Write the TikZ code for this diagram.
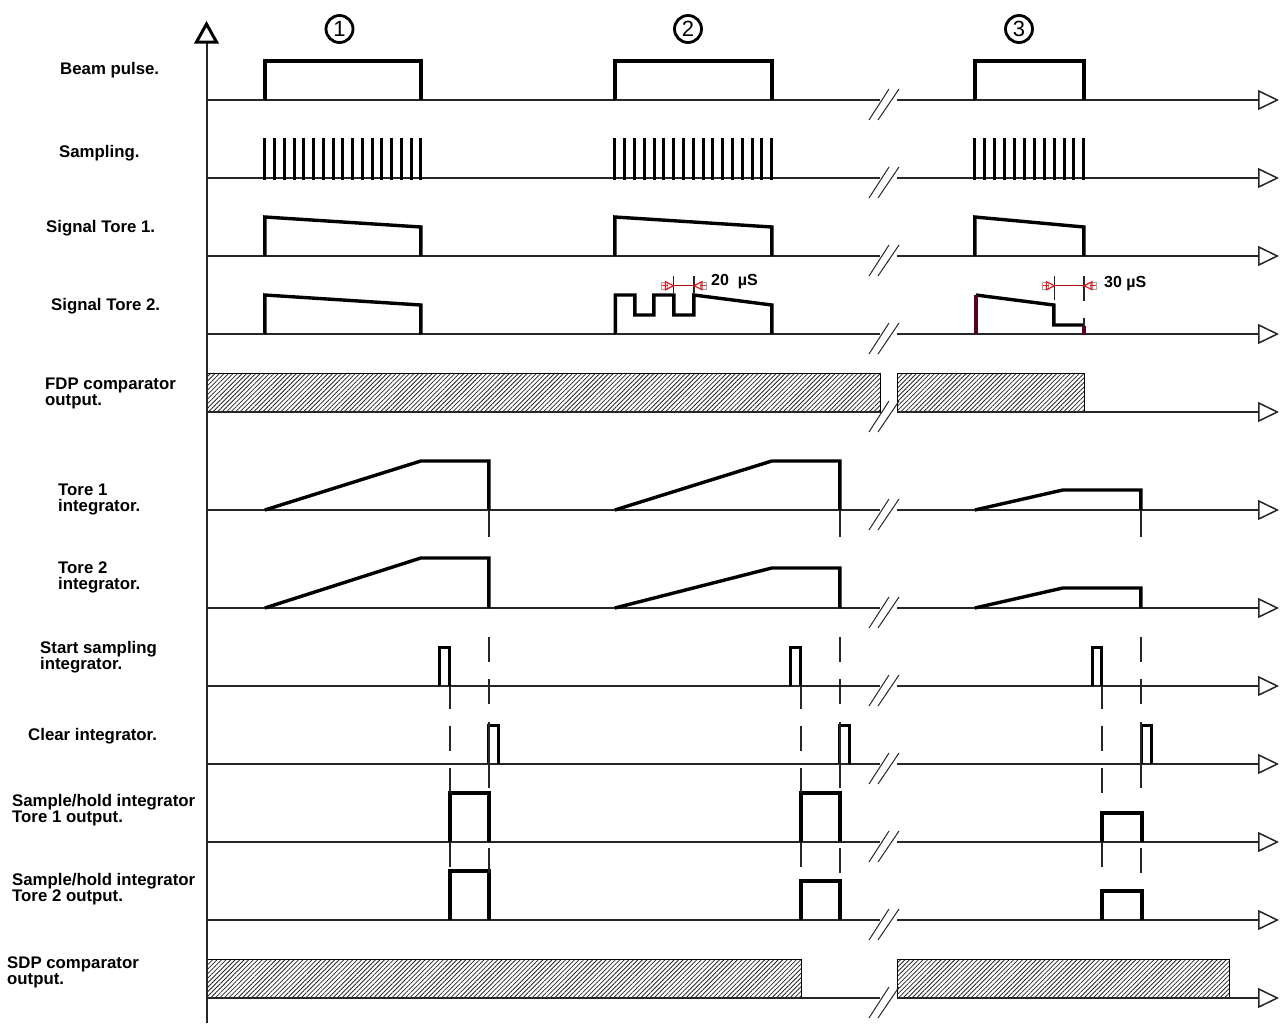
\documentclass[tikz,border=0pt]{standalone}
\usepackage{fontspec}
\setmainfont{Liberation Sans}
\usetikzlibrary{arrows.meta, patterns.meta}
\definecolor{dimred}{RGB}{240,20,30}
\definecolor{darkred}{RGB}{90,0,35}
\tikzset{
  axisline/.style={line width=1.5pt, black!85},
  pulse/.style={line width=3.4pt, line join=miter, black, xshift=-0.2pt},
  narrowpulse/.style={line width=3pt, line join=miter, black, xshift=-0.2pt},
  guide/.style={line width=1.5pt, black!85},
  breakmark/.style={line width=1pt, black!85},
  hatched/.style={line width=1pt, pattern={Lines[angle=45,distance=3.2pt,line width=0.8pt]}, pattern color=black!85},
  siglabel/.style={font=\fontsize{16.8}{16}\selectfont\bfseries, anchor=west, align=left, inner sep=0pt},
  phasenum/.style={circle, draw, line width=2.8pt, minimum size=27pt, inner sep=0pt, font=\fontsize{22}{22}\selectfont},
  dimtext/.style={font=\fontsize{16}{16}\selectfont\bfseries, anchor=west, inner sep=0pt},
}
\begin{document}
\begin{tikzpicture}[x=1pt, y=-1pt]
  \useasboundingbox (0,0) rectangle (1285,1023);
  %% Hatched comparator outputs
  \draw[hatched] (207,373) rectangle (880,412);
  \draw[hatched] (897,373) rectangle (1084,412);
  \draw[hatched] (207,959) rectangle (801,998);
  \draw[hatched] (897,959) rectangle (1229,998);
  %% Vertical axis
  \draw[axisline] (207,42) -- (207,1023);
  \draw[line width=3pt, line join=miter, fill=white] (206.5,24) -- (216.5,42) -- (196.5,42) -- cycle;
  %% Time axes with their breaks
  \foreach \ya in {100,178,256,334,412,510,608,686,764,842,920,998} {
    \draw[axisline] (207,\ya) -- (880,\ya);
    \draw[axisline, -{Triangle[open, length=21pt, width=20pt]}] (897,\ya) -- (1279,\ya);
    \draw[breakmark] (869,\ya+20) -- (889,\ya-11);
    \draw[breakmark] (878,\ya+20) -- (899,\ya-11);
  }
  %% Phase numbers
  \node[phasenum] (phase1) at (339.5,29) {1};
  \node[phasenum] (phase2) at (688,29) {2};
  \node[phasenum] (phase3) at (1019,29) {3};
  %% Beam pulse
  \draw[pulse] (265,100) -- (265,61) -- (421,61) -- (421,100);
  \draw[pulse] (615,100) -- (615,61) -- (772,61) -- (772,100);
  \draw[pulse] (975,100) -- (975,61) -- (1084,61) -- (1084,100);
  %% Sampling
  \foreach \xa/\dx/\num in {265/9.75/16, 615/9.81/16, 975/9.91/11} {
    \foreach \n in {0,...,\num} {
      \draw[line width=3pt, xshift=-0.2pt] ({\xa+\n*\dx},138) -- ({\xa+\n*\dx},180);
    }
  }
  %% Signal Tore 1
  \draw[pulse] (265,256) -- (265,217) -- (421,227) -- (421,256);
  \draw[pulse] (615,256) -- (615,217) -- (772,227) -- (772,256);
  \draw[pulse] (975,256) -- (975,217) -- (1084,227) -- (1084,256);
  %% Signal Tore 2
  \draw[pulse] (265,334) -- (265,295) -- (421,305) -- (421,334);
  \draw[pulse] (615.5,334) -- (615.5,295) -- (635,295) -- (635,315) -- (654,315) -- (654,295)
    -- (674,295) -- (674,315) -- (694,315) -- (694,295) -- (772,305) -- (772,334);
  \draw[pulse] (976,295) -- (1054,305) -- (1054,325) -- (1084,325);
  \draw[pulse, darkred] (976,334) -- (976,295);
  \draw[pulse, darkred] (1084,326) -- (1084,335);
  %% Measured widths
  \draw[guide] (673.5,276) -- (673.5,293);
  \draw[guide] (694,276) -- (694,293);
  \draw[guide] (1054.5,276) -- (1054.5,300);
  \draw[guide] (1084,276) -- (1084,301);
  \draw[guide] (1084,318) -- (1084,326);
  \foreach \xa/\xb in {673.5/694, 1054.5/1084} {
    \draw[black!35, line width=1pt] (\xa-12,282.5) rectangle (\xa-6.5,289);
    \draw[black!35, line width=1pt] (\xb+6.5,282.5) rectangle (\xb+12,289);
    \draw[dimred!70!black, line width=1.2pt] (\xa,285.7) -- (\xb,285.7);
    \draw[dimred, line width=1.2pt] (\xa,285.7) -- (\xa-8,281.7) -- (\xa-8,289.7) -- cycle;
    \draw[dimred, line width=1.2pt] (\xb,285.7) -- (\xb+8,281.7) -- (\xb+8,289.7) -- cycle;
    \draw[dimred, line width=1pt] (\xa-12,285.7) -- (\xa-6,285.7);
    \draw[dimred, line width=1pt] (\xb+6,285.7) -- (\xb+12,285.7);
  }
  \node[dimtext] (width20) at (711,282) {20\ \ µS};
  \node[dimtext] (width30) at (1104,284) {30 µS};
  %% Tore 1 integrator
  \draw[pulse] (265,510) -- (421,461) -- (489,461) -- (489,510);
  \draw[pulse] (615,510) -- (772,461) -- (840,461) -- (840,510);
  \draw[pulse] (975,510) -- (1063,490) -- (1141,490) -- (1141,510);
  %% Tore 2 integrator
  \draw[pulse] (265,608) -- (421,558) -- (489,558) -- (489,608);
  \draw[pulse] (615,608) -- (772,568) -- (840,568) -- (840,608);
  \draw[pulse] (975,608) -- (1063,588) -- (1141,588) -- (1141,608);
  %% Start sampling, clear and sample/hold
  \foreach \xa/\xb/\xc/\xd/\hone/\htwo in {440/450/489/499/793/871, 791/801/840/850/793/881, 1093/1102/1142/1152/813/891} {
    \draw[narrowpulse] (\xa,686) -- (\xa,647) -- (\xb,647) -- (\xb,686);
    \draw[narrowpulse] (\xc,764) -- (\xc,725) -- (\xd,725) -- (\xd,764);
    \draw[pulse] (\xb,842) -- (\xb,\hone) -- (\xc,\hone) -- (\xc,842);
    \draw[pulse] (\xb,920) -- (\xb,\htwo) -- (\xc,\htwo) -- (\xc,920);
  }
  %% Dashed guides between the signals
  \foreach \xb in {450,801,1102} {
    \draw[guide] (\xb,686) -- (\xb,709);
    \draw[guide] (\xb,726) -- (\xb,751);
    \draw[guide] (\xb,768) -- (\xb,793);
    \draw[guide] (\xb,842) -- (\xb,867);
  }
  \foreach \xc in {489,840,1141} {
    \draw[guide] (\xc,510) -- (\xc,537);
    \draw[guide] (\xc,637) -- (\xc,662);
    \draw[guide] (\xc,679) -- (\xc,704);
    \draw[guide] (\xc,722) -- (\xc,788);
    \draw[guide] (\xc,848) -- (\xc,873);
  }
  %% Signal names
  \node[siglabel] (beam) at (60,70) {Beam pulse.};
  \node[siglabel] (sampling) at (59,153) {Sampling.};
  \node[siglabel] (tore1) at (46,228) {Signal Tore 1.};
  \node[siglabel] (tore2) at (51,306) {Signal Tore 2.};
  \node[siglabel] (fdp) at (45,393) {FDP comparator\\output.};
  \node[siglabel] (int1) at (58,499.5) {Tore 1\\integrator.};
  \node[siglabel] (int2) at (58,577.5) {Tore 2\\integrator.};
  \node[siglabel] (start) at (40,657) {Start sampling\\integrator.};
  \node[siglabel] (clear) at (28,736) {Clear integrator.};
  \node[siglabel] (hold1) at (12,810) {Sample/hold integrator\\Tore 1 output.};
  \node[siglabel] (hold2) at (12,889) {Sample/hold integrator\\Tore 2 output.};
  \node[siglabel] (sdp) at (7,972) {SDP comparator\\output.};
\end{tikzpicture}
\end{document}
